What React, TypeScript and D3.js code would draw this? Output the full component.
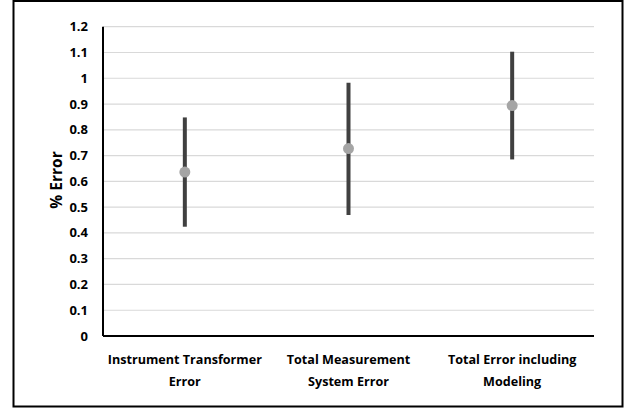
import { useEffect, useRef } from "react";
import * as d3 from "d3";

// values
const categories = [
  ["Instrument Transformer", "Error"],
  ["Total Measurement", "System Error"],
  ["Total Error including", "Modeling"],
];
const lows = [0.424, 0.469, 0.685];
const highs = [0.848, 0.983, 1.103];
const means = [0.636, 0.727, 0.894];
const yTicks = [0, 0.1, 0.2, 0.3, 0.4, 0.5, 0.6, 0.7, 0.8, 0.9, 1, 1.1, 1.2];

const W = 629;
const H = 408;
const FONT = "'Open Sans', sans-serif";

const App = () => {
  const svgRef = useRef<SVGSVGElement>(null);

  useEffect(() => {
    if (!svgRef.current) return;
    const svg = d3.select(svgRef.current);
    svg.selectAll("*").remove();

    const margin = { left: 103, right: 35, top: 26.7, bottom: 72 };

    // outer frame
    svg
      .append("rect")
      .attr("x", 13.5)
      .attr("y", 1)
      .attr("width", 609)
      .attr("height", 405.5)
      .attr("fill", "#fff")
      .attr("stroke", "#000")
      .attr("stroke-width", 2);

    const x = d3
      .scaleBand<number>()
      .domain(d3.range(categories.length))
      .range([margin.left, W - margin.right]);

    const y = d3
      .scaleLinear()
      .domain([0, 1.2])
      .range([H - margin.bottom, margin.top]);

    // gridlines
    svg
      .append("g")
      .selectAll("line")
      .data(yTicks.filter((t) => t > 0))
      .join("line")
      .attr("x1", margin.left)
      .attr("x2", W - margin.right)
      .attr("y1", (d) => y(d))
      .attr("y2", (d) => y(d))
      .attr("stroke", "#d9d9d9")
      .attr("stroke-width", 1.2);

    // y tick labels
    svg
      .append("g")
      .selectAll("text")
      .data(yTicks)
      .join("text")
      .attr("x", 88)
      .attr("y", (d) => y(d))
      .attr("dy", "0.35em")
      .attr("text-anchor", "end")
      .attr("font-family", FONT)
      .attr("font-weight", "bold")
      .attr("font-size", 13)
      .text((d) => String(d));

    // axes lines
    svg
      .append("line")
      .attr("x1", margin.left)
      .attr("x2", margin.left)
      .attr("y1", y(1.2))
      .attr("y2", y(0))
      .attr("stroke", "#000")
      .attr("stroke-width", 2);
    svg
      .append("line")
      .attr("x1", margin.left)
      .attr("x2", W - margin.right)
      .attr("y1", y(0))
      .attr("y2", y(0))
      .attr("stroke", "#000")
      .attr("stroke-width", 2);

    // category labels
    svg
      .append("g")
      .selectAll("text")
      .data(categories)
      .join("text")
      .attr("x", (_, i) => (x(i) ?? 0) + x.bandwidth() / 2)
      .attr("y", 364)
      .attr("text-anchor", "middle")
      .attr("font-family", FONT)
      .attr("font-weight", "bold")
      .attr("font-size", 12.6)
      .selectAll("tspan")
      .data((d) => d)
      .join("tspan")
      .attr("x", function () {
        return (this.parentNode as SVGTextElement).getAttribute("x");
      })
      .attr("dy", (_, j) => (j === 0 ? 0 : 21.5))
      .text((d) => d);

    // y axis title
    svg
      .append("text")
      .attr("transform", `translate(57,180) rotate(-90)`)
      .attr("text-anchor", "middle")
      .attr("dy", "0.35em")
      .attr("font-family", FONT)
      .attr("font-weight", "bold")
      .attr("font-size", 15.5)
      .text("% Error");

    // range bars
    const cx = (i: number) => (x(i) ?? 0) + x.bandwidth() / 2;
    svg
      .append("g")
      .selectAll("line")
      .data(d3.range(categories.length))
      .join("line")
      .attr("x1", cx)
      .attr("x2", cx)
      .attr("y1", (i) => y(lows[i]))
      .attr("y2", (i) => y(highs[i]))
      .attr("stroke", "#404040")
      .attr("stroke-width", 4);

    // mean dots
    svg
      .append("g")
      .selectAll("circle")
      .data(d3.range(categories.length))
      .join("circle")
      .attr("cx", cx)
      .attr("cy", (i) => y(means[i]))
      .attr("r", 5.5)
      .attr("fill", "#a5a5a5");
  }, []);

  return (
    <svg
      ref={svgRef}
      width={W}
      height={H}
      style={{ position: "absolute", left: 0, top: 0, background: "#fff" }}
    />
  );
};

export default App;
